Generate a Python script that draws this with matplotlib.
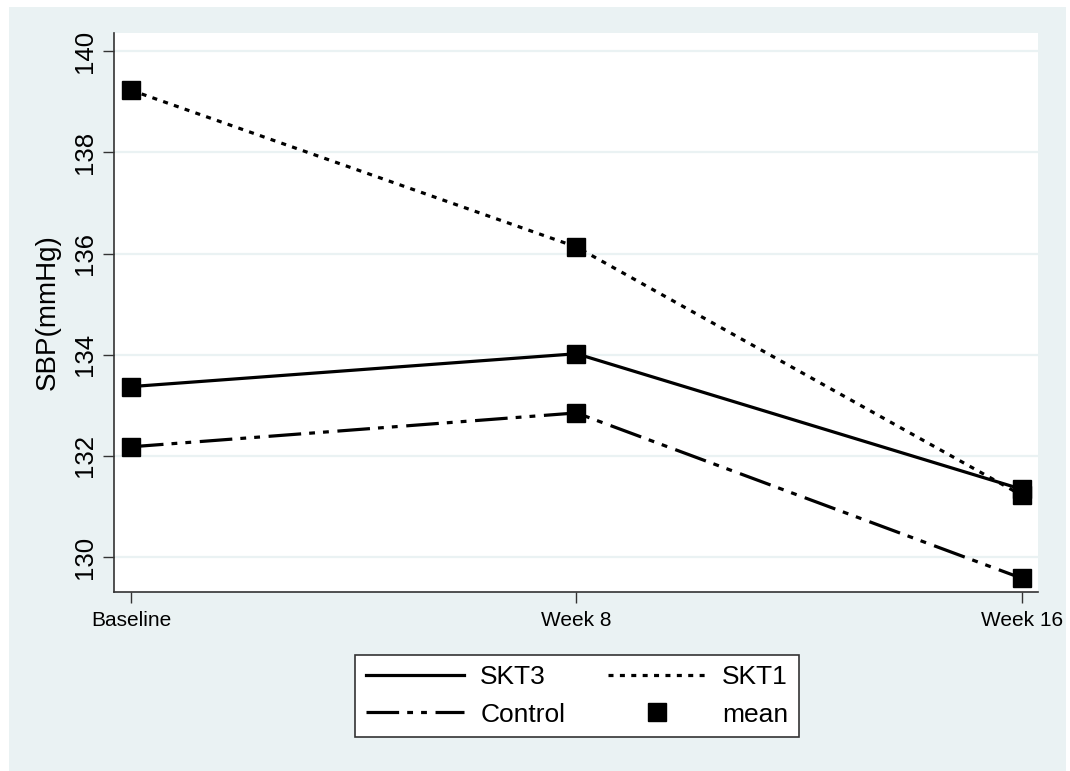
import matplotlib.pyplot as plt
from matplotlib.lines import Line2D
from matplotlib.patches import Rectangle

plt.rcParams['font.family'] = ['Liberation Sans', 'DejaVu Sans']
plt.rcParams['lines.scale_dashes'] = False

visits = ["Baseline", "Week 8", "Week 16"]
skt3 = [133.37, 134.02, 131.34]
skt1 = [139.23, 136.13, 131.22]
control = [132.18, 132.85, 129.58]
yticks = [130, 132, 134, 136, 138, 140]

bg = '#EAF2F3'
dot = (0, (3.6, 4.6))
dashdot = (0, (23.5, 5.8, 4.2, 5.8, 4.2, 6.2))

fig = plt.figure(figsize=(10.7, 7.71), dpi=100)
fig.patches.append(Rectangle((9 / 1070, 0), 1057 / 1070, 764 / 771,
                             transform=fig.transFigure, facecolor=bg,
                             edgecolor='none', zorder=-10))

ax = fig.add_axes([114 / 1070, 1 - 592 / 771, 924 / 1070, 559 / 771])
ax.set_facecolor('white')
x = list(range(len(visits)))

ax.plot(x, skt3, color='black', lw=2.3, ls='-', zorder=3)
ax.plot(x, skt1, color='black', lw=2.3, ls=dot, zorder=3)
ax.plot(x, control, color='black', lw=2.3, ls=dashdot, zorder=3)
for s in (skt3, skt1, control):
    ax.plot(x, s, ls='none', marker='s', ms=13, color='black', zorder=4)

ax.set_xlim(-0.038, 2.036)
ax.set_ylim(129.31, 140.36)
ax.set_xticks(x)
ax.set_xticklabels(visits, fontsize=15)
ax.set_yticks(yticks)
ax.set_yticklabels([str(v) for v in yticks], fontsize=18.5, rotation=90, va='center')
ax.grid(axis='y', color=bg, lw=1.6, zorder=1)
ax.set_axisbelow(True)

for side in ('top', 'right'):
    ax.spines[side].set_visible(False)
for side in ('left', 'bottom'):
    ax.spines[side].set_color('#333333')
    ax.spines[side].set_linewidth(1.2)
ax.tick_params(axis='both', length=8, width=1, color='#333333', direction='out')
ax.tick_params(axis='y', pad=4.5)
ax.tick_params(axis='x', pad=6)

ax.set_ylabel("SBP(mmHg)", fontsize=20)
ax.yaxis.set_label_coords(-0.058, 0.5)

handles = [
    Line2D([], [], color='black', lw=2.3, ls='-'),
    Line2D([], [], color='black', lw=2.3, ls=dashdot),
    Line2D([], [], color='black', lw=2.3, ls=dot),
    Line2D([], [], color='black', ls='none', marker='s', ms=13),
]
labels = ["SKT3", "Control", "SKT1", "mean"]
leg = fig.legend(handles, labels, ncol=2, loc='center',
                 bbox_to_anchor=(577 / 1070, 1 - 696 / 771),
                 fontsize=19, handlelength=3.75, handletextpad=0.6,
                 columnspacing=1.6, labelspacing=0.5, borderpad=0.4,
                 fancybox=False, framealpha=1, edgecolor='#333333')
leg.get_frame().set_linewidth(1.2)

fig.savefig('out.png', dpi=100)
